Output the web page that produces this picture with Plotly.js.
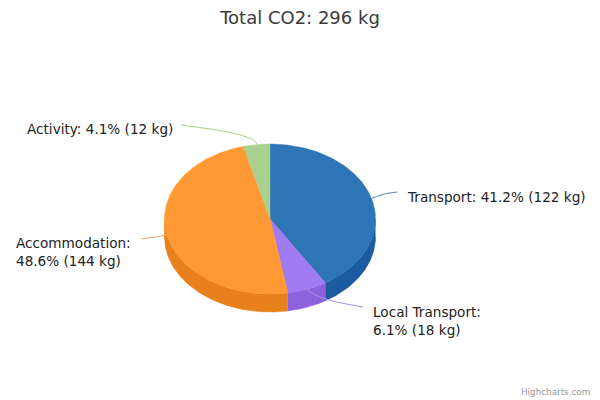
<!DOCTYPE html>
<html><head><meta charset="utf-8">
<script src="https://cdn.plot.ly/plotly-3.0.1.min.js"></script>
<style>html,body{margin:0;padding:0;background:#fff}</style>
</head><body><div id="chart" style="width:600px;height:400px"></div>
<script>
const categories = ["Transport", "Local Transport", "Accommodation", "Activity"];
const co2Kg = [122, 18, 144, 12];
const topColors = ["#2E75B6", "#A07CF0", "#FF9933", "#A8D18D"];
const sideColors = ["#1A5C9E", "#8C62DC", "#E8801C", "#A8D18D"];
const lineColors = ["#4F86B8", "#AE90E8", "#EFA860", "#A8D18D"];
const labelBreak = [": ", ":<br>", ":<br>", ": "];

// Pie geometry in the page's pixel frame
const cx = 270, cy = 219, rx = 105.5, ry = 75, depth = 18;
// Label placement: [text x, text y, leader end x, leader end y, control x, control y]
const labelPlace = [
  [404.5, 197, 397, 192, 383, 193],
  [370.5, 320.5, 363, 307, 316, 300],
  [13.5, 251.5, 141, 239, 153, 238],
  [24.5, 129, 181, 125, 258, 134]
];

const total = co2Kg.reduce((a, b) => a + b, 0);
const pt = (deg, dy) => {
  const r = deg * Math.PI / 180;
  return [cx + rx * Math.sin(r), cy - ry * Math.cos(r) + (dy || 0)];
};
const angles = [0];
co2Kg.forEach(v => angles.push(angles[angles.length - 1] + v / total * 360));

function arc(a, b, dy) {
  const n = Math.max(2, Math.ceil(Math.abs(b - a)));
  const out = [];
  for (let i = 0; i <= n; i++) out.push(pt(a + (b - a) * i / n, dy));
  return out;
}
function poly(points, color) {
  return {
    type: "scatter", mode: "lines", hoverinfo: "skip", showlegend: false,
    x: points.map(p => p[0]), y: points.map(p => p[1]),
    fill: "toself", fillcolor: color, line: {color: color, width: 0.5}
  };
}
const traces = [];
// Walls of the front half
co2Kg.forEach((v, i) => {
  const a = Math.max(angles[i], 90), b = Math.min(angles[i + 1], 270);
  if (b > a) traces.push(poly(arc(a, b, 0).concat(arc(b, a, depth)), sideColors[i]));
});
// Top face
co2Kg.forEach((v, i) => {
  traces.push(poly([[cx, cy]].concat(arc(angles[i], angles[i + 1], 0)).concat([[cx, cy]]), topColors[i]));
});
// Leader lines
co2Kg.forEach((v, i) => {
  const s = pt((angles[i] + angles[i + 1]) / 2, 0), p = labelPlace[i];
  const xs = [], ys = [];
  for (let k = 0; k <= 24; k++) {
    const t = k / 24, u = 1 - t;
    xs.push(u * u * p[2] + 2 * u * t * p[4] + t * t * s[0]);
    ys.push(u * u * p[3] + 2 * u * t * p[5] + t * t * s[1]);
  }
  traces.push({type: "scatter", mode: "lines", hoverinfo: "skip", showlegend: false,
    x: xs, y: ys, line: {color: lineColors[i], width: 1}});
});

const annotations = co2Kg.map((v, i) => ({
  xref: "x", yref: "y", x: labelPlace[i][0], y: labelPlace[i][1],
  xanchor: "left", yanchor: "middle", align: "left", showarrow: false,
  text: categories[i] + labelBreak[i] + (v / total * 100).toFixed(1) + "% (" + v + " kg)",
  font: {family: "DejaVu Sans", size: 13.6, color: "#222222"}
}));
annotations.push({
  xref: "x", yref: "y", x: 592, y: 392, xanchor: "right", yanchor: "middle", showarrow: false,
  text: "Highcharts.com", font: {family: "DejaVu Sans", size: 8.8, color: "#999999"}
});

const hidden = {visible: false, fixedrange: true};
Plotly.newPlot("chart", traces, {
  width: 600, height: 400,
  margin: {l: 0, r: 0, t: 0, b: 0},
  paper_bgcolor: "#fff", plot_bgcolor: "#fff",
  showlegend: false,
  title: {text: "Total CO2: " + total + " kg", x: 0.5, xanchor: "center", y: 0.955, yanchor: "middle",
    font: {family: "DejaVu Sans", size: 18, color: "#3A3A3A"}},
  xaxis: Object.assign({range: [0, 600]}, hidden),
  yaxis: Object.assign({range: [400, 0]}, hidden),
  annotations: annotations
}, {displayModeBar: false, staticPlot: true});
</script></body></html>
